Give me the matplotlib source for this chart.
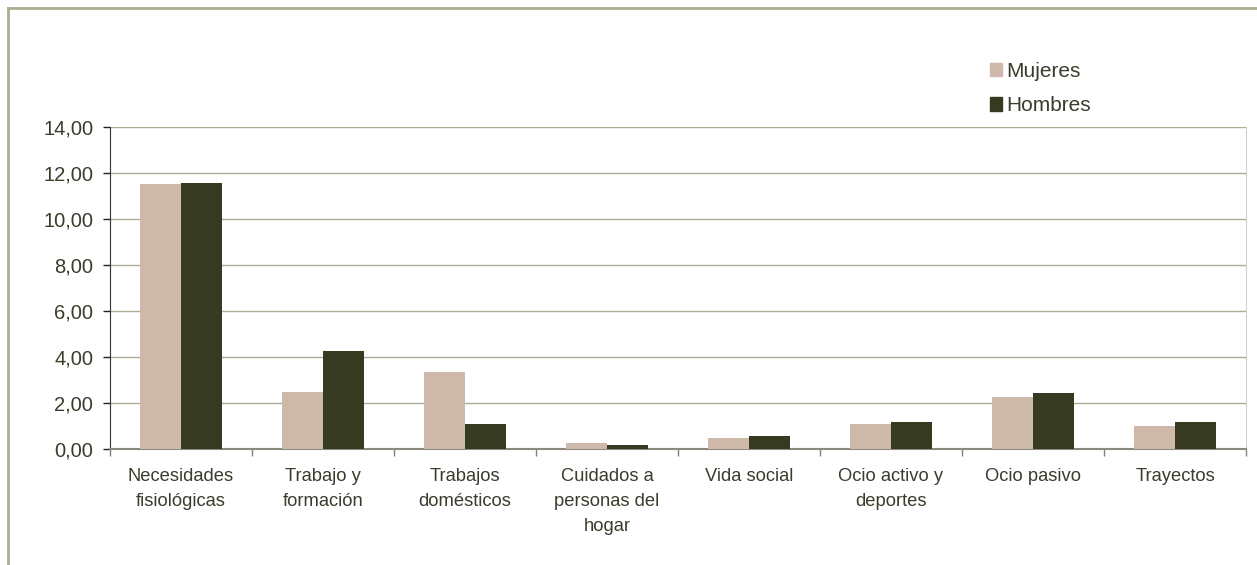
"""Tiempo medio diario por actividad, mujeres y hombres."""

import matplotlib.pyplot as plt
import numpy as np
from matplotlib.lines import Line2D
from matplotlib.ticker import FuncFormatter

CATEGORIES = [
    "Necesidades\nfisiológicas",
    "Trabajo y\nformación",
    "Trabajos\ndomésticos",
    "Cuidados a\npersonas del\nhogar",
    "Vida social",
    "Ocio activo y\ndeportes",
    "Ocio pasivo",
    "Trayectos",
]
MUJERES = [11.52, 2.49, 3.35, 0.26, 0.48, 1.09, 2.26, 1.00]
HOMBRES = [11.57, 4.26, 1.10, 0.17, 0.57, 1.17, 2.43, 1.17]
SERIES = ["Mujeres", "Hombres"]
Y_TICKS = [0, 2, 4, 6, 8, 10, 12, 14]

COLORS = {"Mujeres": "#CDB8AA", "Hombres": "#363A20"}
TEXT_COLOR = "#3A3C2C"
GRID_COLOR = "#ABAD97"
FRAME_COLOR = "#A5B08F"

plt.rcParams.update({"font.family": ["Liberation Sans", "DejaVu Sans"]})

fig = plt.figure(figsize=(12.57, 5.65), dpi=100)
ax = fig.add_axes([110 / 1257, 1 - 449 / 565, 1136 / 1257, 322 / 565])

x = np.arange(len(CATEGORIES))
width = 0.29
ax.bar(x - width / 2, MUJERES, width, color=COLORS["Mujeres"], zorder=3,
       label="Mujeres")
ax.bar(x + width / 2, HOMBRES, width, color=COLORS["Hombres"], zorder=3,
       label="Hombres")

ax.set_xlim(-0.5, len(CATEGORIES) - 0.5)
ax.set_ylim(0, 14)
ax.set_yticks(Y_TICKS)
ax.yaxis.set_major_formatter(FuncFormatter(lambda v, _: f"{v:.2f}".replace(".", ",")))
ax.grid(axis="y", color=GRID_COLOR, linewidth=1.0, zorder=0)

# category labels centred, ticks at the boundaries
ax.set_xticks(np.arange(len(CATEGORIES) + 1) - 0.5)
ax.set_xticklabels([])
ax.set_xticks(x, minor=True)
ax.set_xticklabels(CATEGORIES, minor=True, fontsize=13.2, color=TEXT_COLOR,
                   linespacing=1.6, va="top")
ax.tick_params(axis="x", which="minor", length=0, pad=14)
ax.tick_params(axis="x", which="major", length=5, color="#808080", width=1)
ax.tick_params(axis="y", length=5, color="#222222", width=1, labelsize=14.5,
               labelcolor=TEXT_COLOR, pad=7)

ax.spines["top"].set_visible(False)
ax.spines["right"].set_color("#D2D4C4")
ax.spines["left"].set_color("#333333")
ax.spines["bottom"].set_color("#8A8A80")
ax.spines["bottom"].set_linewidth(1.5)

handles = [
    plt.Rectangle((0, 0), 1, 1, color=COLORS[name]) for name in SERIES
]
fig.legend(handles, SERIES, loc="upper left", bbox_to_anchor=(971 / 1257, 1 - 43 / 565),
           frameon=False, fontsize=15, handlelength=0.6, handleheight=0.6,
           handletextpad=0.2, labelspacing=0.75, labelcolor=TEXT_COLOR)

# outer frame (only top and left edges are visible in the original crop)
fig.add_artist(Line2D([7.5 / 1257, 1], [1 - 7.5 / 565, 1 - 7.5 / 565],
                      transform=fig.transFigure, color=FRAME_COLOR, linewidth=2))
fig.add_artist(Line2D([7.5 / 1257, 7.5 / 1257], [0, 1 - 7.5 / 565],
                      transform=fig.transFigure, color=FRAME_COLOR, linewidth=2))

fig.savefig("out.png", dpi=100)
